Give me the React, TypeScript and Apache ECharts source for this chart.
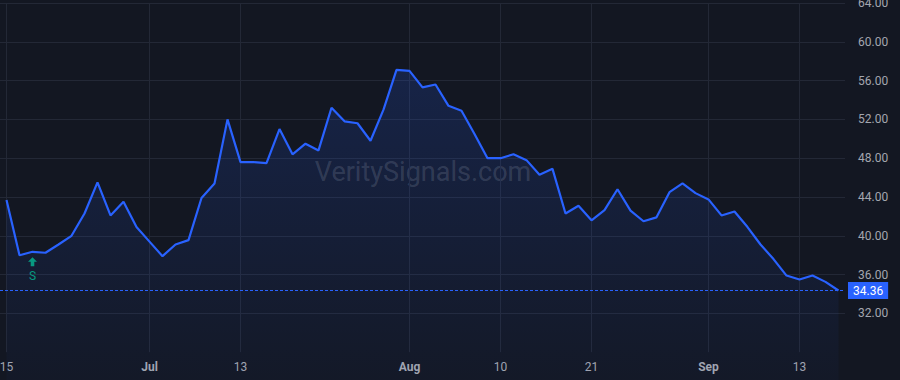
import React, { useEffect, useRef } from "react";
import * as echarts from "echarts";

const dates: string[] = [
  "2023-06-15", "2023-06-16", "2023-06-20", "2023-06-21", "2023-06-22", "2023-06-23", "2023-06-26", "2023-06-27",
  "2023-06-28", "2023-06-29", "2023-06-30", "2023-07-03", "2023-07-05", "2023-07-06", "2023-07-07", "2023-07-10",
  "2023-07-11", "2023-07-12", "2023-07-13", "2023-07-14", "2023-07-17", "2023-07-18", "2023-07-19", "2023-07-20",
  "2023-07-21", "2023-07-24", "2023-07-25", "2023-07-26", "2023-07-27", "2023-07-28", "2023-07-31", "2023-08-01",
  "2023-08-02", "2023-08-03", "2023-08-04", "2023-08-07", "2023-08-08", "2023-08-09", "2023-08-10", "2023-08-11",
  "2023-08-14", "2023-08-15", "2023-08-16", "2023-08-17", "2023-08-18", "2023-08-21", "2023-08-22", "2023-08-23",
  "2023-08-24", "2023-08-25", "2023-08-28", "2023-08-29", "2023-08-30", "2023-08-31", "2023-09-01", "2023-09-05",
  "2023-09-06", "2023-09-07", "2023-09-08", "2023-09-11", "2023-09-12", "2023-09-13", "2023-09-14", "2023-09-15",
  "2023-09-18",
];

const prices: number[] = [
  43.7, 38.0, 38.35, 38.25, 39.1, 40.0, 42.3, 45.5, 42.1, 43.5,
  40.9, 39.4, 37.9, 39.1, 39.55, 43.9, 45.4, 52.0, 47.6, 47.6,
  47.5, 51.0, 48.4, 49.5, 48.8, 53.2, 51.8, 51.6, 49.8, 53.0,
  57.1, 57.0, 55.3, 55.6, 53.4, 52.9, 50.5, 48.0, 48.0, 48.4,
  47.8, 46.3, 46.9, 42.3, 43.1, 41.6, 42.65, 44.8, 42.6, 41.5,
  41.9, 44.5, 45.4, 44.4, 43.75, 42.1, 42.5, 40.9, 39.1, 37.6,
  35.9, 35.5, 35.9, 35.25, 34.36,
];

const xTickIndices: number[] = [0, 11, 18, 31, 38, 45, 54, 61];
const xTickLabels: string[] = ["15", "Jul", "13", "Aug", "10", "21", "Sep", "13"];
const xTickBold: boolean[] = [false, true, false, true, false, false, true, false];

const yMin = 28;
const yMax = 64;
const yInterval = 4;
const yFirstLabel = 32;

const signalIndices: number[] = [2];
const signalLabels: string[] = ["S"];

const lastPrice = prices[prices.length - 1];
const watermark = "VeritySignals.com";

export default function App() {
  const ref = useRef<HTMLDivElement>(null);

  useEffect(() => {
    document.body.style.margin = "0";
    document.body.style.background = "#131722";
    if (!ref.current) return;
    const chart = echarts.init(ref.current, undefined, { renderer: "svg" });

    const seriesData = prices.map((v, i) => [i, v]);
    const gridColor = "#232836";
    const textColor = "#a3a6af";

    chart.setOption({
      animation: false,
      backgroundColor: "#131722",
      textStyle: { fontFamily: "Roboto, 'Liberation Sans', sans-serif" },
      grid: {
        left: 0,
        right: 55,
        top: 3,
        bottom: 27.8,
        containLabel: false,
        outerBoundsMode: "none",
      },
      xAxis: {
        type: "value",
        min: -0.5,
        max: prices.length - 0.5,
        axisLine: { show: false },
        axisTick: { show: false, customValues: xTickIndices },
        axisLabel: {
          customValues: xTickIndices,
          color: textColor,
          fontSize: 12,
          margin: 9,
          hideOverlap: false,
          formatter: (val: number) => {
            const k = xTickIndices.indexOf(Math.round(val));
            if (k < 0) return "";
            return xTickBold[k] ? "{b|" + xTickLabels[k] + "}" : xTickLabels[k];
          },
          rich: { b: { fontWeight: "bold", color: textColor, fontSize: 12 } },
        },
        splitLine: { show: true, lineStyle: { color: gridColor, width: 1 } },
      },
      yAxis: {
        type: "value",
        position: "right",
        min: yMin,
        max: yMax,
        interval: yInterval,
        axisLine: { show: false },
        axisTick: { show: false },
        axisLabel: {
          color: textColor,
          fontSize: 12,
          margin: 13,
          align: "left",
          formatter: (v: number) => (v < yFirstLabel ? "" : v.toFixed(2)),
        },
        splitLine: { show: true, showMinLine: false, lineStyle: { color: gridColor, width: 1 } },
      },
      graphic: [
        {
          type: "text",
          x: 423,
          y: 172,
          z: 0,
          style: {
            text: watermark,
            fill: "rgba(255,255,255,0.15)",
            font: "27px Roboto, 'Liberation Sans', sans-serif",
            textAlign: "center",
            textVerticalAlign: "middle",
          },
        },
      ],
      series: [
        {
          type: "line",
          data: seriesData,
          showSymbol: false,
          clip: false,
          z: 3,
          lineStyle: { color: "#2962ff", width: 2.2 },
          itemStyle: { color: "#2962ff" },
          areaStyle: {
            origin: 24,
            color: new echarts.graphic.LinearGradient(0, 0, 0, 1, [
              { offset: 0, color: "rgba(41,98,255,0.24)" },
              { offset: 1, color: "rgba(41,98,255,0.03)" },
            ]),
          },
          markLine: {
            silent: true,
            symbol: "none",
            lineStyle: { color: "#2962ff", type: [3, 2], width: 1, opacity: 1 },
            label: {
              show: true,
              position: "end",
              distance: 3,
              formatter: () => lastPrice.toFixed(2),
              color: "#ffffff",
              fontSize: 12,
              backgroundColor: "#2962ff",
              padding: [3, 5, 2, 5],
            },
            data: [{ yAxis: lastPrice }],
          },
          markPoint: {
            silent: true,
            symbol: "path://M4.5,0 L9,4.5 L6.3,4.5 L6.3,9 L2.7,9 L2.7,4.5 L0,4.5 Z",
            symbolSize: [9, 9],
            symbolOffset: [0, 10],
            itemStyle: { color: "#089981" },
            label: {
              show: true,
              position: "bottom",
              distance: 4,
              color: "#089981",
              fontSize: 12,
              formatter: (p: any) => p.name,
            },
            data: signalIndices.map((idx, k) => ({
              name: signalLabels[k],
              coord: [idx, prices[idx]],
            })),
          },
        },
      ],
    });

    return () => chart.dispose();
  }, []);

  return <div ref={ref} style={{ width: 900, height: 380 }} />;
}
